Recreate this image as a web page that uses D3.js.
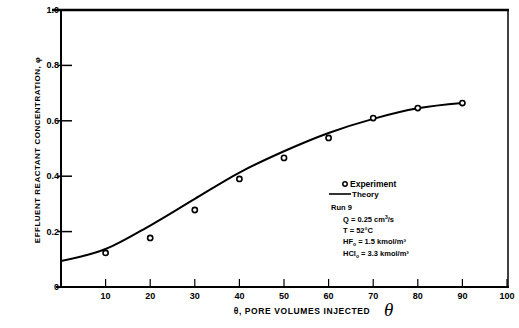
<!DOCTYPE html>
<html>
<head>
<meta charset="utf-8">
<script src="https://cdn.jsdelivr.net/npm/d3@7"></script>
<style>
  body { margin: 0; background: #fff; }
  svg text { font-family: "Liberation Sans", Arial, sans-serif; font-weight: bold; fill: #000; }
</style>
</head>
<body>
<svg id="chart" width="519" height="328"></svg>
<script>
// experiment points (pore volumes, concentration)
var expX = [10, 20, 30, 40, 50, 60, 70, 80, 90];
var expY = [0.123, 0.177, 0.278, 0.39, 0.466, 0.538, 0.61, 0.646, 0.664];

// theory curve
var theoryX = [0, 10, 20, 30, 40, 50, 60, 70, 80, 90];
var theoryY = [0.094, 0.137, 0.222, 0.318, 0.413, 0.49, 0.556, 0.607, 0.645, 0.664];

var xTicks = [10, 20, 30, 40, 50, 60, 70, 80, 90, 100];
var yTicks = [0.2, 0.4, 0.6, 0.8];

var svg = d3.select("#chart");

var x = d3.scaleLinear().domain([0, 100]).range([61, 507]);
var y = d3.scaleLinear().domain([0, 1]).range([287, 10]);

// frame
svg.append("line").attr("x1", 52).attr("x2", 509).attr("y1", y(1)).attr("y2", y(1))
    .attr("stroke", "#000").attr("stroke-width", 2.5);
svg.append("line").attr("x1", x(0)).attr("x2", x(0)).attr("y1", y(1)).attr("y2", y(0) + 1)
    .attr("stroke", "#000").attr("stroke-width", 2);
svg.append("line").attr("x1", x(100) + 1).attr("x2", x(100) + 1).attr("y1", y(1)).attr("y2", y(0))
    .attr("stroke", "#000").attr("stroke-width", 1.5);
svg.append("line").attr("x1", 56).attr("x2", 509).attr("y1", y(0)).attr("y2", y(0))
    .attr("stroke", "#000").attr("stroke-width", 2);

// x ticks (inward)
var xg = svg.append("g");
xg.selectAll("line").data(xTicks).enter().append("line")
    .attr("x1", function(d) { return x(d); }).attr("x2", function(d) { return x(d); })
    .attr("y1", y(0)).attr("y2", y(0) - 8)
    .attr("stroke", "#000").attr("stroke-width", 1.2);
xg.selectAll("text").data(xTicks).enter().append("text")
    .attr("x", function(d) { return x(d); }).attr("y", 299)
    .attr("text-anchor", "middle").attr("font-size", 9)
    .text(function(d) { return d; });

// y ticks
var yg = svg.append("g");
yg.selectAll("line").data(yTicks).enter().append("line")
    .attr("x1", x(0) - 3).attr("x2", x(0) + 11)
    .attr("y1", function(d) { return y(d); }).attr("y2", function(d) { return y(d); })
    .attr("stroke", "#000").attr("stroke-width", 1.5);
yg.selectAll("text").data(yTicks).enter().append("text")
    .attr("x", 59).attr("y", function(d) { return y(d) + 3; })
    .attr("text-anchor", "end").attr("font-size", 9)
    .text(function(d) { return d.toFixed(1); });
svg.append("text").attr("x", 59).attr("y", y(0) + 3).attr("text-anchor", "end")
    .attr("font-size", 9).text("0");
svg.append("text").attr("x", 59).attr("y", y(1) + 3).attr("text-anchor", "end")
    .attr("font-size", 9).text("1.0");

// theory line
var line = d3.line()
    .x(function(d, i) { return x(theoryX[i]); })
    .y(function(d) { return y(d); })
    .curve(d3.curveMonotoneX);
svg.append("path").datum(theoryY).attr("d", line)
    .attr("fill", "none").attr("stroke", "#000").attr("stroke-width", 2);

// experiment points
svg.append("g").selectAll("circle").data(expY).enter().append("circle")
    .attr("cx", function(d, i) { return x(expX[i]); })
    .attr("cy", function(d) { return y(d); })
    .attr("r", 2.6)
    .attr("fill", "#fff").attr("stroke", "#000").attr("stroke-width", 1.6);

// axis titles
svg.append("text")
    .attr("transform", "translate(40,150) rotate(-90)")
    .attr("text-anchor", "middle").attr("font-size", 8).attr("letter-spacing", 0.5)
    .text("EFFLUENT REACTANT CONCENTRATION, \u03c6");
svg.append("text").attr("x", 302).attr("y", 314)
    .attr("text-anchor", "middle").attr("font-size", 8.5).attr("letter-spacing", 0.6)
    .text("\u03b8, PORE VOLUMES INJECTED");
svg.append("text").attr("x", 384).attr("y", 316)
    .attr("font-style", "italic").attr("font-size", 19)
    .style("font-weight", "normal").style("font-family", "'Liberation Serif', serif")
    .text("\u03b8");

// legend
var lg = svg.append("g");
lg.append("circle").attr("cx", 345).attr("cy", 184).attr("r", 2.2)
    .attr("fill", "#fff").attr("stroke", "#000").attr("stroke-width", 1.5);
lg.append("text").attr("x", 350).attr("y", 187).attr("font-size", 8.5).text("Experiment");
lg.append("line").attr("x1", 329).attr("x2", 351).attr("y1", 194).attr("y2", 194)
    .attr("stroke", "#000").attr("stroke-width", 1.6);
lg.append("text").attr("x", 352).attr("y", 197).attr("font-size", 8).text("Theory");
lg.append("text").attr("x", 331).attr("y", 210).attr("font-size", 7.5).text("Run 9");
var legLines = [
    ["Q = 0.25 cm", "3", "/s"],
    ["T = 52\u00b0C", "", ""],
    ["HF", "o", " = 1.5 kmol/m\u00b3"],
    ["HCl", "o", " = 3.3 kmol/m\u00b3"]
];
legLines.forEach(function(l, i) {
    var t = lg.append("text").attr("x", 343).attr("y", 222 + i * 11.2).attr("font-size", 7.5);
    t.append("tspan").text(l[0]);
    if (l[1]) {
        t.append("tspan").attr("font-size", 5).attr("dy", i === 0 ? -3 : 2).text(l[1]);
        t.append("tspan").attr("dy", i === 0 ? 3 : -2).text(l[2]);
    }
});
</script>
</body>
</html>
